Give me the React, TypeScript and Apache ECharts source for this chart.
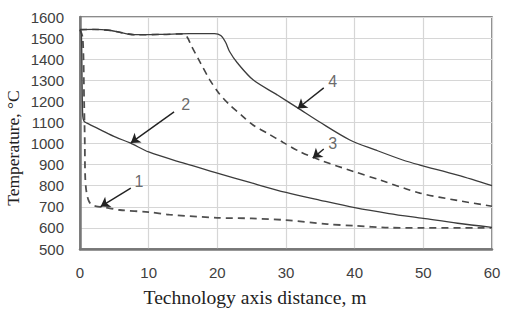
import React, { useEffect, useRef } from "react";
import * as echarts from "echarts";

const xTicks = { min: 0, max: 60, interval: 10 };
const yTicks = { min: 500, max: 1600, interval: 100 };

const curve1: [number, number][] = [
  [0, 1540], [0.4, 1500], [0.6, 1200], [0.7, 1000], [0.75, 850], [0.9, 780], [1.2, 735],
  [1.6, 712], [2.4, 702], [3.3, 699], [5.8, 685], [10, 675], [13, 663], [20, 648],
  [25, 645], [30, 637], [36, 618], [40, 610], [45, 601], [50, 600], [60, 600],
];
const curve2: [number, number][] = [
  [0, 1540], [0.2, 1520], [0.3, 1300], [0.4, 1130], [0.6, 1105], [1, 1097], [3, 1065],
  [5.2, 1030], [7.3, 1003], [10, 960], [15, 908], [20, 860], [25, 813], [30, 768],
  [35, 731], [40, 696], [45, 668], [50, 645], [55, 622], [60, 603],
];
const curve3: [number, number][] = [
  [0, 1540], [2, 1541], [4.5, 1536], [6, 1526], [8, 1516], [12, 1517], [15, 1520],
  [15.6, 1505], [16.2, 1465], [17.5, 1385], [18.9, 1302], [20.2, 1240], [21.8, 1183],
  [23.5, 1135], [25.2, 1088], [27.5, 1045], [29.5, 1007], [32, 962], [35, 921],
  [40, 866], [43.7, 827], [49.5, 765], [55, 730], [60, 703],
];
const curve4: [number, number][] = [
  [0, 1540], [2, 1541], [4.5, 1536], [6, 1526], [8, 1516], [12, 1518], [16, 1521],
  [19.6, 1521], [20.5, 1512], [21.2, 1480], [21.8, 1435], [22.9, 1383], [25.2, 1302],
  [28.7, 1231], [31.7, 1169], [34.9, 1102], [39.3, 1017], [43, 970], [47, 922],
  [49.5, 898], [55, 850], [60, 800],
];

const labelTexts = ["1", "2", "3", "4"];
const labelPos: [number, number][] = [[8.6, 822], [15.4, 1183], [36.8, 1002], [36.8, 1292]];
const arrowFrom: [number, number][] = [[7.4, 789], [13.7, 1150], [35.5, 974], [35.5, 1264]];
const arrowTo: [number, number][] = [[3.0, 701], [7.4, 1003], [33.9, 931], [31.7, 1166]];

export default function App() {
  const ref = useRef<HTMLDivElement>(null);
  useEffect(() => {
    if (!ref.current) return;
    const chart = echarts.init(ref.current, undefined, { renderer: "svg" });
    const smoothOpts = { smooth: 0.3 };
    const option: any = {
      animation: false,
      backgroundColor: "#ffffff",
      grid: {
        left: 80, right: 13, top: 17, bottom: 64,
        show: true, borderColor: "#666", borderWidth: 1.5, backgroundColor: "transparent",
      },
      xAxis: {
        type: "value",
        min: xTicks.min, max: xTicks.max, interval: xTicks.interval,
        axisLine: { show: true, onZero: false, lineStyle: { color: "#777", width: 2.5 } },
        axisTick: { show: false },
        splitLine: { show: true, lineStyle: { color: "#d6d6d6", width: 1.2 } },
        axisLabel: {
          color: "#404040", fontSize: 15, fontFamily: "Liberation Sans", margin: 16,
          formatter: (v: number) => String(v),
        },
      },
      yAxis: {
        type: "value",
        min: yTicks.min, max: yTicks.max, interval: yTicks.interval,
        axisLine: { show: true, lineStyle: { color: "#777", width: 2.5 } },
        axisTick: { show: false },
        splitLine: { show: true, lineStyle: { color: "#d6d6d6", width: 1.2 } },
        axisLabel: {
          color: "#404040", fontSize: 15, fontFamily: "Liberation Sans", margin: 16,
          formatter: (v: number) => String(v),
        },
      },
      series: [
        {
          name: "1", type: "line", data: curve1, showSymbol: false, ...smoothOpts,
          lineStyle: { color: "#505050", width: 1.8, type: [7, 5] },
        },
        {
          name: "2", type: "line", data: curve2, showSymbol: false, ...smoothOpts,
          lineStyle: { color: "#3c3c3c", width: 1.3, type: "solid" },
        },
        {
          name: "3", type: "line", data: curve3, showSymbol: false, ...smoothOpts,
          lineStyle: { color: "#454545", width: 1.6, type: [7, 5] },
        },
        {
          name: "4", type: "line", data: curve4, showSymbol: false, ...smoothOpts,
          lineStyle: { color: "#3c3c3c", width: 1.3, type: "solid" },
          markLine: {
            silent: true,
            symbol: ["none", "arrow"],
            symbolSize: 9,
            label: { show: false },
            lineStyle: { color: "#222", width: 1.4, type: "solid" },
            data: arrowFrom.map((f, i) => [
              { coord: f, symbol: "none" },
              { coord: arrowTo[i], symbol: "arrow", symbolSize: 9 },
            ]),
          },
        },
        {
          name: "labels", type: "scatter", symbolSize: 1,
          itemStyle: { color: "rgba(0,0,0,0)" },
          data: labelPos.map((p, i) => [p[0], p[1], labelTexts[i]]),
          label: {
            show: true, position: "inside", color: "#444", fontSize: 16,
            fontFamily: "Liberation Sans",
            formatter: (p: any) => p.value[2],
          },
        },
      ],
      graphic: [
        {
          type: "text", x: 12.5, y: 148, rotation: Math.PI / 2,
          style: {
            text: "Temperature, \u00B0C", fill: "#222", font: "17.5px 'Liberation Serif'",
            textAlign: "center", textVerticalAlign: "middle",
          },
        },
        {
          type: "text", x: 255, y: 298, scaleX: 1.09,
          style: {
            text: "Technology axis distance, m", fill: "#222", font: "18px 'Liberation Serif'",
            textAlign: "center", textVerticalAlign: "middle",
          },
        },
      ],
    };
    chart.setOption(option);
    return () => chart.dispose();
  }, []);
  return (
    <div
      ref={ref}
      style={{ position: "fixed", left: 0, top: 0, width: 505, height: 313, background: "#fff" }}
    />
  );
}
